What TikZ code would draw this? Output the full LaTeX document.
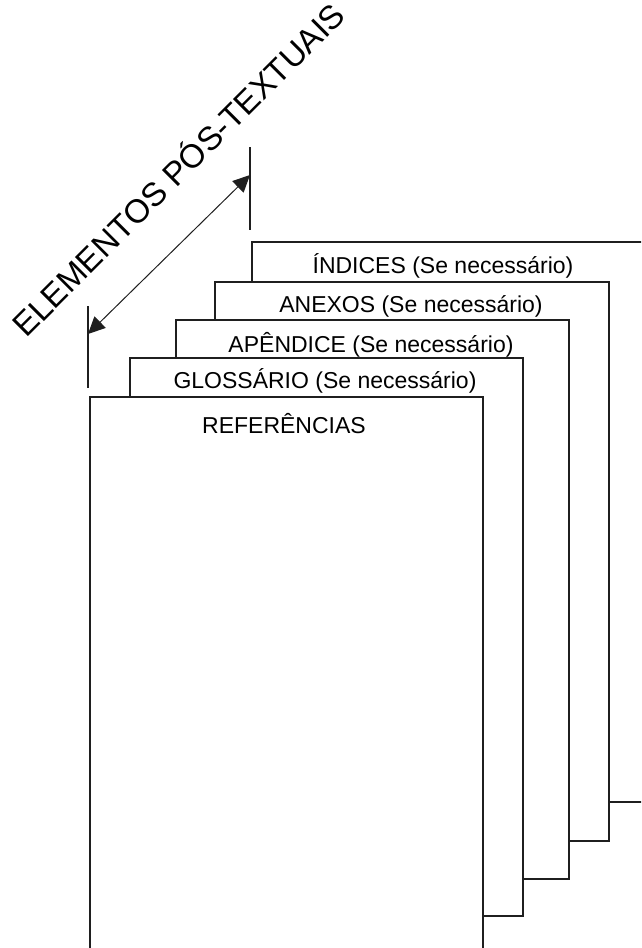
\documentclass[tikz,border=0pt]{standalone}
\usepackage{fontspec}
\setmainfont{Liberation Sans}
\usepackage{tikz}
\usetikzlibrary{shapes, arrows.meta, positioning}

\begin{document}
\begin{tikzpicture}[x=1pt,y=-1pt,
  folha/.style={fill=white,draw=black!88,line width=1.3pt},
  rotulo/.style={anchor=base,inner sep=0pt,font=\fontsize{23}{27}\selectfont}]
\useasboundingbox (0,0) rectangle (641,948);
\clip (0,0) rectangle (641,948);
% folhas, da ultima para a primeira
\filldraw [folha] (252,242) rectangle (646,802);
\node [rotulo] (indices) at (443,273) {ÍNDICES (Se necessário)};
\filldraw [folha] (215,282) rectangle (609,841);
\node [rotulo] (anexos) at (411,312) {ANEXOS (Se necessário)};
\filldraw [folha] (176,320) rectangle (569,879);
\node [rotulo] (apendice) at (371,352) {APÊNDICE (Se necessário)};
\filldraw [folha] (130,358) rectangle (523,916);
\node [rotulo] (glossario) at (325,388) {GLOSSÁRIO (Se necessário)};
\filldraw [folha] (90,397) rectangle (483,960);
\node [rotulo] (referencias) at (284,433) {REFERÊNCIAS};
% cota
\coordinate (cotaEa) at (88,306);
\coordinate (cotaEb) at (88,388);
\coordinate (cotaDa) at (250,147);
\coordinate (cotaDb) at (250,230);
\draw [line width=1.3pt,black!88] (cotaEa) -- (cotaEb);
\draw [line width=1.3pt,black!88] (cotaDa) -- (cotaDb);
\coordinate (setaE) at (88,334);
\coordinate (setaD) at (250,175);
\draw [{Triangle[length=17pt,width=16pt]}-{Triangle[length=17pt,width=16pt]},line width=1pt,black!88] (setaE) -- (setaD);
\node [rotate=45,inner sep=0pt,font=\fontsize{33}{38}\selectfont] (titulo) at (177,168) {ELEMENTOS PÓS-TEXTUAIS};
\end{tikzpicture}
\end{document}
